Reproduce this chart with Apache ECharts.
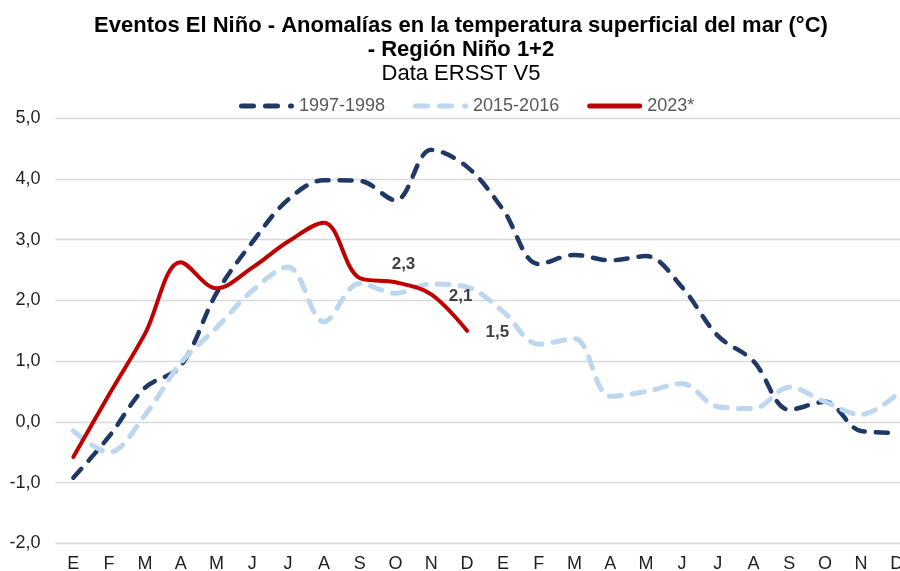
<!DOCTYPE html>
<html>
<head>
<meta charset="utf-8">
<script src="https://cdn.jsdelivr.net/npm/echarts@6/dist/echarts.min.js"></script>
<style>
html,body{margin:0;padding:0;background:#fff;}
#chart{width:900px;height:571px;}
</style>
</head>
<body>
<div id="chart"></div>
<script>
const categories = ['E','F','M','A','M','J','J','A','S','O','N','D','E','F','M','A','M','J','J','A','S','O','N','D'];
const yTickMin = -2.0;
const yTickMax = 5.0;
const yTickStep = 1.0;
const values1997 = [-0.92, -0.24, 0.56, 0.92, 2.12, 2.96, 3.66, 3.98, 3.97, 3.65, 4.48, 4.2, 3.5, 2.6, 2.75, 2.66, 2.73, 2.22, 1.42, 1.0, 0.2, 0.33, -0.15, -0.18];
const values2015 = [-0.15, -0.5, 0.11, 0.97, 1.55, 2.16, 2.55, 1.65, 2.28, 2.12, 2.27, 2.22, 1.82, 1.28, 1.37, 0.42, 0.5, 0.63, 0.25, 0.22, 0.57, 0.33, 0.12, 0.45];
const values2023 = [-0.58, 0.45, 1.45, 2.63, 2.2, 2.54, 2.97, 3.28, 2.37, 2.3, 2.1, 1.5];
const seriesNames = ['1997-1998', '2015-2016', '2023*'];
const labelledPoints2023 = [9, 10, 11];

const DASH_ICON = 'path://M2.5,0H14.5A2.5,2.5,0,0,1,14.5,5H2.5A2.5,2.5,0,0,1,2.5,0Z' +
  'M26.5,0H38.5A2.5,2.5,0,0,1,38.5,5H26.5A2.5,2.5,0,0,1,26.5,0Z' +
  'M51.5,0H52.5A2.5,2.5,0,0,1,52.5,5H51.5A2.5,2.5,0,0,1,51.5,0Z';
const SOLID_ICON = 'path://M2.5,0H52.5A2.5,2.5,0,0,1,52.5,5H2.5A2.5,2.5,0,0,1,2.5,0Z';

const fmt = v => v.toFixed(1).replace('.', ',');
const FONT = 'Liberation Sans, Arial, sans-serif';

const labelCfg = {
  9: { position: 'top', distance: 9, offset: [8, 0] },
  10: { position: 'right', distance: 17, offset: [0, 2] },
  11: { position: 'right', distance: 18, offset: [0, 2] }
};

const data2023 = values2023.map((v, i) => {
  if (labelledPoints2023.indexOf(i) >= 0) {
    return {
      value: v,
      label: Object.assign({
        show: true,
        formatter: p => fmt(p.value),
        fontSize: 17,
        fontWeight: 'bold',
        color: '#404040',
        fontFamily: FONT
      }, labelCfg[i])
    };
  }
  return v;
});

const chart = echarts.init(document.getElementById('chart'), null, { renderer: 'canvas' });
chart.setOption({
  animation: false,
  backgroundColor: '#ffffff',
  textStyle: { fontFamily: FONT },
  title: {
    text: '{a|Eventos El Niño - Anomalías en la temperatura superficial del mar (°C)}\n{a|- Región Niño 1+2}\n{b|Data ERSST V5}',
    left: 461,
    top: 14,
    padding: 0,
    textAlign: 'center',
    textStyle: {
      rich: {
        a: { fontSize: 22, fontWeight: 'bold', color: '#000', lineHeight: 24, fontFamily: FONT },
        b: { fontSize: 22, fontWeight: 'normal', color: '#000', lineHeight: 24, fontFamily: FONT }
      }
    }
  },
  legend: {
    left: 239,
    top: 97,
    padding: 0,
    itemWidth: 55,
    itemHeight: 5,
    itemGap: 28,
    textStyle: { fontSize: 18, color: '#595959', fontFamily: FONT },
    data: [
      { name: seriesNames[0], icon: DASH_ICON },
      { name: seriesNames[1], icon: DASH_ICON },
      { name: seriesNames[2], icon: SOLID_ICON }
    ]
  },
  grid: {
    left: 55.4,
    top: 118.3,
    width: 859.2,
    height: 425,
    containLabel: false,
    outerBoundsMode: 'none'
  },
  xAxis: {
    type: 'category',
    data: categories,
    boundaryGap: true,
    axisLine: { show: false },
    axisTick: { show: false },
    axisLabel: { interval: 0, fontSize: 18, color: '#1f1f1f', margin: 12, fontFamily: FONT },
    splitLine: { show: false }
  },
  yAxis: {
    type: 'value',
    min: yTickMin,
    max: yTickMax,
    interval: yTickStep,
    axisLine: { show: false },
    axisTick: { show: false },
    axisLabel: { fontSize: 18, color: '#1f1f1f', margin: 15, formatter: v => fmt(v), fontFamily: FONT },
    splitLine: { show: true, lineStyle: { color: '#d9d9d9', width: 1.3 } }
  },
  series: [
    {
      name: seriesNames[0],
      type: 'line',
      data: values1997,
      smooth: 0.35,
      symbol: 'none',
      color: '#1f3864',
      lineStyle: { color: '#1f3864', width: 4.5, type: [12, 11], cap: 'round', join: 'round' },
      z: 2
    },
    {
      name: seriesNames[1],
      type: 'line',
      data: values2015,
      smooth: 0.35,
      symbol: 'none',
      color: '#bdd7ee',
      lineStyle: { color: '#bdd7ee', width: 5, type: [12, 11], cap: 'round', join: 'round' },
      z: 3
    },
    {
      name: seriesNames[2],
      type: 'line',
      data: data2023,
      smooth: 0.35,
      symbol: 'circle',
      symbolSize: 1,
      showSymbol: true,
      color: '#c00000',
      itemStyle: { color: '#c00000' },
      lineStyle: { color: '#c00000', width: 4, cap: 'round', join: 'round' },
      z: 4
    }
  ]
});
</script>
</body>
</html>
